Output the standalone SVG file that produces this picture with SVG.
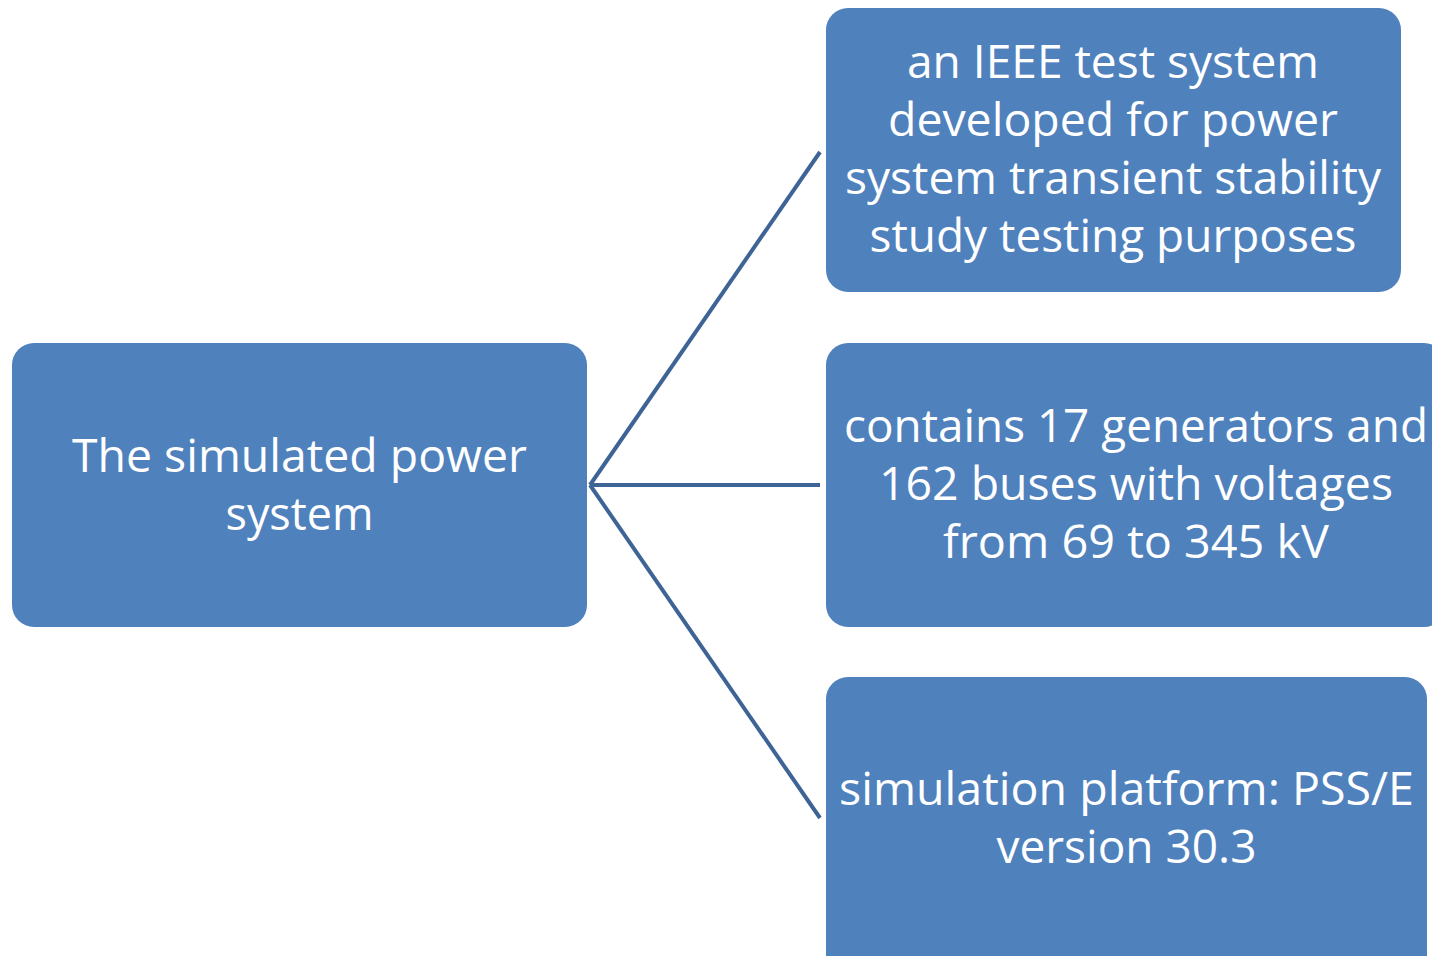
<svg xmlns="http://www.w3.org/2000/svg" width="1432" height="956" viewBox="0 0 1432 956">
<style>
.box{fill:#4f81bd;}
.t{fill:#ffffff;font-family:"Open Sans","Liberation Sans",sans-serif;font-size:45px;text-anchor:middle;}
.c{stroke:#3e6496;stroke-width:4;fill:none;}
</style>
<rect width="1432" height="956" fill="#ffffff"/>
<g id="connectors">
<line class="c" x1="590" y1="485" x2="820" y2="152"/>
<line class="c" x1="590" y1="485" x2="820" y2="485"/>
<line class="c" x1="590" y1="485" x2="820" y2="818"/>
</g>
<g id="root">
<rect class="box" x="12" y="343" width="575" height="284" rx="22"/>
<text class="t" x="299.5" y="472" textLength="455" lengthAdjust="spacingAndGlyphs">The simulated power</text>
<text class="t" x="299.5" y="530" textLength="148" lengthAdjust="spacingAndGlyphs">system</text>
</g>
<g id="node1">
<rect class="box" x="826" y="8" width="575" height="284" rx="22"/>
<text class="t" x="1113" y="78" textLength="412" lengthAdjust="spacingAndGlyphs">an IEEE test system</text>
<text class="t" x="1113" y="136" textLength="450" lengthAdjust="spacingAndGlyphs">developed for power</text>
<text class="t" x="1113" y="194" textLength="536" lengthAdjust="spacingAndGlyphs">system transient stability</text>
<text class="t" x="1113" y="252" textLength="487" lengthAdjust="spacingAndGlyphs">study testing purposes</text>
</g>
<g id="node2">
<rect class="box" x="826" y="343" width="620" height="284" rx="22"/>
<text class="t" x="1136" y="442" textLength="584" lengthAdjust="spacingAndGlyphs">contains 17 generators and</text>
<text class="t" x="1136" y="500" textLength="514" lengthAdjust="spacingAndGlyphs">162 buses with voltages</text>
<text class="t" x="1136" y="558" textLength="386" lengthAdjust="spacingAndGlyphs">from 69 to 345 kV</text>
</g>
<g id="node3">
<rect class="box" x="826" y="677" width="601" height="300" rx="22"/>
<text class="t" x="1126.5" y="805" textLength="575" lengthAdjust="spacingAndGlyphs">simulation platform: PSS/E</text>
<text class="t" x="1126.5" y="863" textLength="260" lengthAdjust="spacingAndGlyphs">version 30.3</text>
</g>
</svg>
